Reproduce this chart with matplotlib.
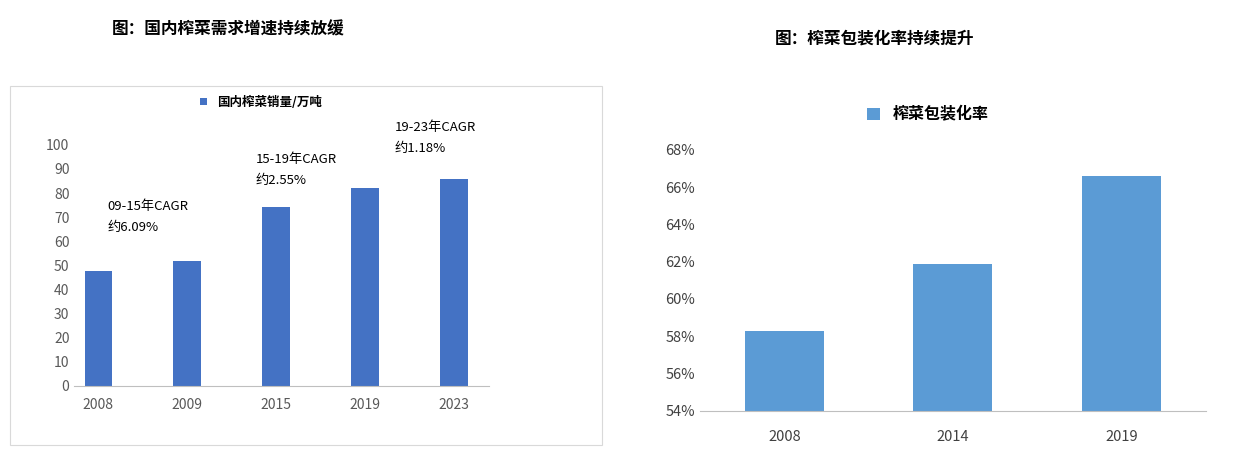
import matplotlib
matplotlib.use("Agg")
import matplotlib.pyplot as plt
from matplotlib.patches import Rectangle

plt.rcParams['font.family'] = ['Noto Sans CJK SC', 'DejaVu Sans']

years_l = ['2008', '2009', '2015', '2019', '2023']
sales = [47.7, 51.9, 74.3, 82.2, 85.9]
notes = ['09-15年CAGR\n约6.09%', '15-19年CAGR\n约2.55%', '19-23年CAGR\n约1.18%']
note_x = [0.1, 1.77, 3.33]
note_y = [70, 89.5, 103]

years_r = ['2008', '2014', '2019']
rate = [58.3, 61.9, 66.6]

fig = plt.figure(figsize=(12.39, 4.54), dpi=100)
fig.text(0.09, 0.925, '图：国内榨菜需求增速持续放缓', fontsize=12, fontweight='bold')
fig.text(0.625, 0.905, '图：榨菜包装化率持续提升', fontsize=12, fontweight='bold')
fig.patches.append(Rectangle((0.008, 0.02), 0.478, 0.79, transform=fig.transFigure,
                             fill=False, edgecolor='#d9d9d9', lw=0.8))

ax = fig.add_axes([0.06, 0.15, 0.335, 0.531])
x = range(len(years_l))
ax.bar(x, sales, width=0.31, color='#4472c4')
ax.set_ylim(0, 100)
ax.set_yticks(range(0, 101, 10))
ax.set_xticks(list(x), years_l)
ax.set_xlim(-0.27, 4.4)
for s in ['top', 'right', 'left']:
    ax.spines[s].set_visible(False)
ax.spines['bottom'].set_color('#bfbfbf')
ax.tick_params(length=0, labelsize=10, colors='#595959')
ax.tick_params(axis='x', pad=9)
for xx, yy, t in zip(note_x, note_y, notes):
    ax.text(xx, yy, t, fontsize=9.5, ha='left', va='center', linespacing=1.8, clip_on=False)
ax.legend(['国内榨菜销量/万吨'], loc='upper center', bbox_to_anchor=(0.45, 1.25),
          frameon=False, handlelength=0.6, handleheight=0.6,
          prop={'weight': 'bold', 'size': 9})

ax2 = fig.add_axes([0.565, 0.095, 0.408, 0.575])
x2 = range(len(years_r))
ax2.bar(x2, rate, width=0.47, color='#5b9bd5')
ax2.set_ylim(54, 68)
ax2.set_yticks(range(54, 69, 2), [f'{v}%' for v in range(54, 69, 2)])
ax2.set_xticks(list(x2), years_r)
ax2.set_xlim(-0.5, 2.5)
for s in ['top', 'right', 'left']:
    ax2.spines[s].set_visible(False)
ax2.spines['bottom'].set_color('#bfbfbf')
ax2.tick_params(length=0, labelsize=10.5, colors='#404040')
ax2.tick_params(axis='x', pad=14)
ax2.legend(['榨菜包装化率'], loc='upper center', bbox_to_anchor=(0.45, 1.22),
           frameon=False, handlelength=0.8, handleheight=0.8,
           prop={'weight': 'bold', 'size': 11.5})

fig.savefig('out.png', dpi=100)
